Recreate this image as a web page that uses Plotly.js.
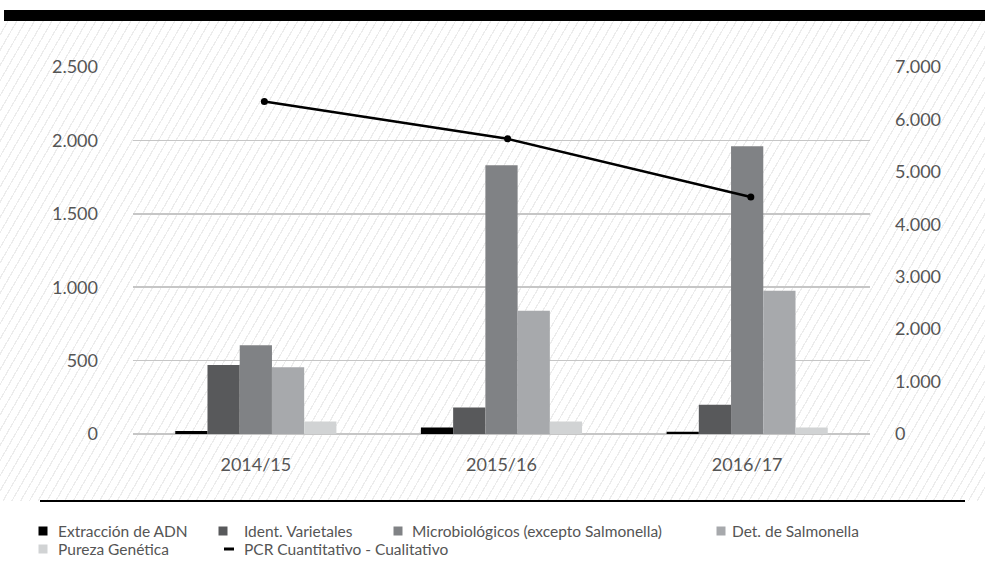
<!DOCTYPE html>
<html><head><meta charset="utf-8">
<script src="https://cdn.plot.ly/plotly-3.0.1.min.js"></script>
<style>
html,body{margin:0;padding:0;background:#fff;}
#wrap{position:relative;width:985px;height:568px;overflow:hidden;background:#fff;}
#stripes{position:absolute;left:0;top:21px;width:985px;height:480px;
 background:repeating-linear-gradient(120deg,#ffffff 0px,#ffffff 6.4px,#ececec 6.4px,#ececec 7.6px);}
#topbar{position:absolute;left:4px;top:10px;width:981px;height:11px;background:#000;}
#botline{position:absolute;left:40px;top:500px;width:925px;height:1.5px;background:#000;}
#chart{position:absolute;left:0;top:0;width:985px;height:568px;}
</style></head>
<body>
<div id="wrap">
 <div id="stripes"></div>
 <div id="topbar"></div>
 <div id="botline"></div>
 <div id="chart"></div>
</div>
<script>
// ---- data ----
const categories = ['2014/15', '2015/16', '2016/17'];
const seriesNames = ['Extracción de ADN', 'Ident. Varietales', 'Microbiológicos (excepto Salmonella)', 'Det. de Salmonella', 'Pureza Genética'];
const extraccion = [20, 45, 15];
const identVarietales = [470, 180, 200];
const microbiologicos = [605, 1830, 1960];
const salmonella = [455, 840, 975];
const pureza = [85, 85, 45];
const lineName = 'PCR Cuantitativo - Cualitativo';
const pcr = [6340, 5630, 4520];

// ---- styles ----
const barColors = ['#000000', '#58595b', '#808285', '#a7a9ac', '#d1d3d4'];
const barValues = [extraccion, identVarietales, microbiologicos, salmonella, pureza];
const font = 'Lato, "Open Sans", sans-serif';
const txt = '#555555';

const traces = barValues.map((v, i) => ({
  type: 'bar', x: categories, y: v, name: seriesNames[i],
  marker: {color: barColors[i], line: {width: 0}}, hoverinfo: 'x+y+name'
}));
traces.push({
  type: 'scatter', mode: 'lines+markers', x: categories, y: pcr, name: lineName,
  xaxis: 'x2', yaxis: 'y2', line: {color: '#000', width: 2.5}, marker: {color: '#000', size: 7}
});

// custom legend (layout only)
const M = {l: 133, r: 115, t: 67, b: 134}, W = 985, H = 568;
const pw = W - M.l - M.r, ph = H - M.t - M.b;
const px = x => (x - M.l) / pw;
const py = y => (H - M.b - y) / ph;
const legendItems = [
  {sym: 'sq', c: barColors[0], sx: 43, tx: 56, y: 531, t: seriesNames[0]},
  {sym: 'sq', c: barColors[1], sx: 223, tx: 242, y: 531, t: seriesNames[1]},
  {sym: 'sq', c: barColors[2], sx: 398, tx: 410, y: 531, t: seriesNames[2]},
  {sym: 'sq', c: barColors[3], sx: 721, tx: 730, y: 531, t: seriesNames[3]},
  {sym: 'sq', c: barColors[4], sx: 43, tx: 56, y: 549, t: seriesNames[4]},
  {sym: 'ln', c: '#000', sx: 229, tx: 242, y: 549, t: lineName}
];
const shapes = [], annotations = [];
legendItems.forEach(it => {
  if (it.sym === 'sq') {
    shapes.push({type: 'rect', xref: 'paper', yref: 'paper', x0: px(it.sx - 4.5), x1: px(it.sx + 4.5),
      y0: py(it.y + 4.5), y1: py(it.y - 4.5), fillcolor: it.c, line: {width: 0}});
  } else {
    shapes.push({type: 'line', xref: 'paper', yref: 'paper', x0: px(it.sx - 5), x1: px(it.sx + 5),
      y0: py(it.y), y1: py(it.y), line: {color: it.c, width: 3}});
  }
  annotations.push({xref: 'paper', yref: 'paper', x: px(it.tx), y: py(it.y), xanchor: 'left', yanchor: 'middle',
    text: it.t, showarrow: false, font: {family: font, size: 15.5, color: txt}});
});

const layout = {
  width: W, height: H, margin: M,
  paper_bgcolor: 'rgba(0,0,0,0)', plot_bgcolor: 'rgba(0,0,0,0)',
  separators: ',.',
  barmode: 'group', bargap: 0.344, bargroupgap: 0,
  showlegend: false,
  font: {family: font, size: 15, color: txt},
  xaxis: {type: 'category', showgrid: false, zeroline: false, showline: false, ticks: '',
    ticklabelstandoff: 18, tickfont: {family: font, size: 18, color: txt}},
  xaxis2: {type: 'category', overlaying: 'x', matches: undefined, visible: false, range: [-0.54, 2.49]},
  yaxis: {range: [0, 2500], dtick: 500, tick0: 0, separatethousands: true, showgrid: true,
    gridcolor: '#c6c6c6', gridwidth: 1.5, zeroline: true, zerolinecolor: '#c6c6c6', zerolinewidth: 1.5,
    showline: false, ticks: '', ticklabelstandoff: 34, tickfont: {family: font, size: 18, color: txt}},
  yaxis2: {range: [0, 7000], dtick: 1000, tick0: 0, separatethousands: true, overlaying: 'y', side: 'right',
    showgrid: false, zeroline: false, showline: false, ticks: '', ticklabelstandoff: 24,
    tickfont: {family: font, size: 18, color: txt}},
  shapes: shapes, annotations: annotations
};

Plotly.newPlot('chart', traces, layout, {displayModeBar: false, staticPlot: true});
</script>
</body></html>
